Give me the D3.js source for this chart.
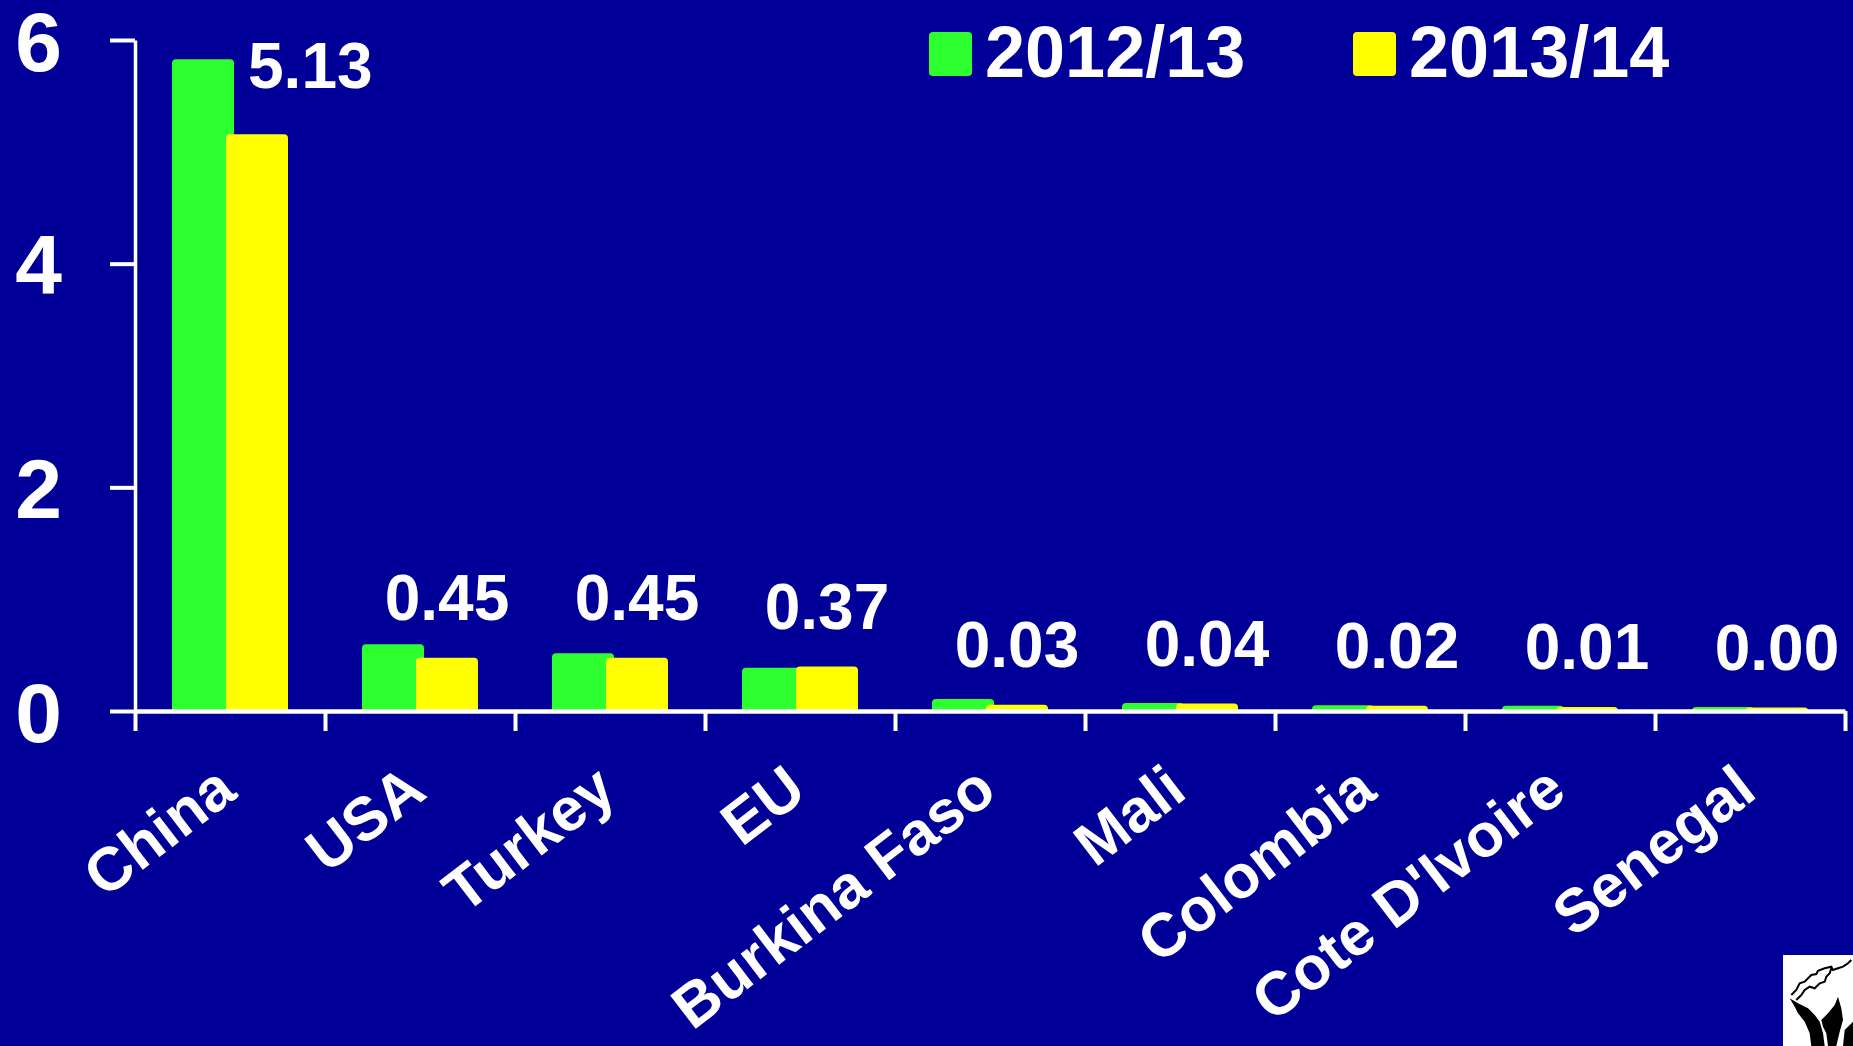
<!DOCTYPE html>
<html>
<head>
<meta charset="utf-8">
<script src="https://cdn.jsdelivr.net/npm/d3@7/dist/d3.min.js"></script>
<style>
  html, body { margin: 0; padding: 0; background: #000099; overflow: hidden; }
  svg { display: block; }
  text { font-family: "Liberation Sans", Arial, Helvetica, sans-serif; font-weight: bold; fill: #ffffff; }
</style>
</head>
<body>
<svg id="chart" width="1853" height="1046"></svg>
<script>
// ---- data ----
const categories = ["China", "USA", "Turkey", "EU", "Burkina Faso", "Mali", "Colombia", "Cote D'Ivoire", "Senegal"];
const seriesNames = ["2012/13", "2013/14"];
const values2012 = [5.80, 0.57, 0.49, 0.36, 0.08, 0.045, 0.025, 0.02, 0.01];
const values2013 = [5.13, 0.45, 0.45, 0.37, 0.03, 0.04, 0.02, 0.01, 0.004];
const yTickValues = [0, 2, 4, 6];
const seriesColors = ["#2EFF2E", "#FFFF00"];

// ---- layout ----
const W = 1853, H = 1046;
const svg = d3.select("#chart");
svg.append("rect").attr("width", W).attr("height", H).attr("fill", "#000099");

const x = d3.scaleBand().domain(categories).range([135, 1845]).paddingInner(0).paddingOuter(0);
const xIdx = d3.scaleLinear().domain([0, categories.length]).range([135, 1845]);
const y = d3.scaleLinear().domain([0, 6]).range([711, 40]);

const barW = 62, groupHalf = 58, barLift = 3;
const seriesVals = [values2012, values2013];
function barX(cat, si) {
  const c = x(cat) + x.bandwidth() / 2;
  const sub = d3.scaleLinear().domain([0, 1]).range([c - groupHalf, c + groupHalf - barW]);
  return sub(si);
}
function barTop(v) { return y(v) - barLift; }
function topRounded(x0, y0, w, h, r) {
  r = Math.min(r, h, w / 2);
  return `M${x0},${y0 + h}V${y0 + r}Q${x0},${y0} ${x0 + r},${y0}H${x0 + w - r}Q${x0 + w},${y0} ${x0 + w},${y0 + r}V${y0 + h}Z`;
}

// ---- bars ----
seriesVals.forEach((vals, si) => {
  svg.append("g").selectAll("path")
    .data(categories.map((c, i) => ({ c, v: vals[i] })))
    .join("path")
    .attr("d", d => {
      const x0 = barX(d.c, si);
      const yt = barTop(d.v);
      return topRounded(x0, yt, barW, y(0) - yt, 4);
    })
    .attr("fill", seriesColors[si]);
});

// ---- axes ----
const yAxis = d3.axisLeft(y).tickValues(yTickValues).tickSize(25).tickSizeOuter(0).tickPadding(48).tickFormat(d3.format("d"));
const gy = svg.append("g").attr("transform", "translate(135,0)").call(yAxis);
gy.select(".domain").attr("stroke", "#fff").attr("stroke-width", 3.5);
gy.selectAll(".tick line").attr("stroke", "#fff").attr("stroke-width", 4);
gy.selectAll(".tick text").attr("font-size", 84).attr("fill", "#fff")
  .attr("font-family", "'Liberation Sans', Arial, sans-serif").attr("font-weight", "bold").attr("dy", "0.36em");

const xAxis = d3.axisBottom(xIdx).tickValues(d3.range(categories.length + 1)).tickSize(20).tickSizeOuter(0).tickFormat("");
const gx = svg.append("g").attr("transform", `translate(0,${y(0)})`).call(xAxis);
gx.select(".domain").attr("stroke", "#fff").attr("stroke-width", 4.5);
gx.selectAll(".tick line").attr("stroke", "#fff").attr("stroke-width", 4);

// ---- category labels ----
svg.append("g").selectAll("text")
  .data(categories)
  .join("text")
  .attr("transform", d => `translate(${x(d) + x.bandwidth() / 2 + 9},796) rotate(-37.5)`)
  .attr("text-anchor", "end")
  .attr("font-size", 61)
  .text(d => d);

// ---- value labels (2013/14) ----
const fmt = d3.format(".2f");
svg.append("g").selectAll("text")
  .data(categories.map((c, i) => ({ c, v: values2013[i], g: values2012[i] })))
  .join("text")
  .attr("font-size", 64)
  .text(d => fmt(d.v))
  .each(function (d) {
    const t = d3.select(this);
    const yx = barX(d.c, 1);
    const cx = yx + barW / 2;
    const w = this.getComputedTextLength();
    const base = barTop(d.v) - 38;
    if (barTop(d.g) < base && cx - w / 2 < yx) {
      t.attr("x", yx + 22).attr("y", barTop(d.v) - 46).attr("text-anchor", "start");
    } else {
      t.attr("x", cx).attr("y", base).attr("text-anchor", "middle");
    }
  });

// ---- legend ----
const legend = svg.append("g");
seriesNames.forEach((s, i) => {
  const lx = 929 + i * 424;
  legend.append("rect").attr("x", lx).attr("y", 32).attr("width", 43).attr("height", 44)
    .attr("rx", 4).attr("fill", seriesColors[i]);
  legend.append("text").attr("x", lx + 56).attr("y", 77).attr("font-size", 72).text(s);
});

// ---- logo (cotton boll) ----
const logo = svg.append("g");
logo.append("rect").attr("x", 1783).attr("y", 955).attr("width", 70).attr("height", 91).attr("fill", "#fff");
logo.append("path")
  .attr("d", "M1791.3,995 L1796.3,990 L1799.7,983.3 L1804.7,981.7 L1811.3,975 L1816.3,974 L1818,970.7 L1824.7,968.3 L1831.3,966.7 L1833,970 L1838,968.3 L1843,966.7 L1848,963.3 L1851.3,960")
  .attr("fill", "none").attr("stroke", "#000").attr("stroke-width", 2);
logo.append("path")
  .attr("d", "M1796.3,1000 L1801.3,995 L1804.7,990 L1809.7,986.7 L1814.7,988.3 L1819.7,983.3 L1824.7,981.7 L1826.3,976.7 L1829.7,973.3 L1831.3,968.3")
  .attr("fill", "none").attr("stroke", "#000").attr("stroke-width", 2);
logo.append("path")
  .attr("d", "M1789.7,998.3 L1798,1003.3 L1808,1008.3 L1814.7,1015 L1819.7,1021.7 L1823,1033.3 L1824.7,1046 L1811.3,1046 L1809.7,1033.3 L1804.7,1021.7 L1798,1013.3 L1794.7,1006.7 Z")
  .attr("fill", "#000");
logo.append("path")
  .attr("d", "M1821.3,1020 L1828,1013.3 L1834.7,1005 L1838,996.7 L1841.3,1008.3 L1843,1020 L1839.7,1031.7 L1836.3,1046 L1828,1046 L1826.3,1033.3 L1823,1026.7 Z")
  .attr("fill", "#000");
logo.append("path")
  .attr("d", "M1844.7,1030 L1853,1021.7 L1853,1046 L1843,1046 Z")
  .attr("fill", "#000");
</script>
</body>
</html>
